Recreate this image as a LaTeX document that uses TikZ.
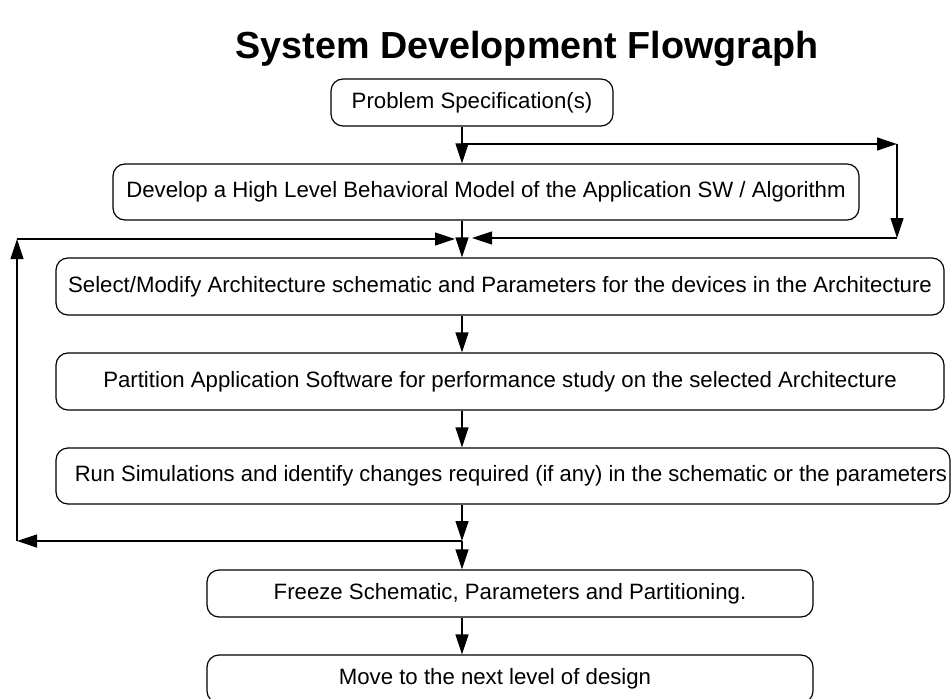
\documentclass[tikz,border=0pt]{standalone}
\usepackage{fontspec}
\setmainfont{Liberation Sans}
\usetikzlibrary{arrows.meta}
\begin{document}
\begin{tikzpicture}[x=1pt,y=-1pt,
  box/.style={draw, rounded corners=12pt, line width=1.2pt, inner sep=0pt,
    font=\fontsize{22.2}{25}\selectfont, align=center},
  flow/.style={line width=1.2pt, -{Triangle[length=20pt,width=13pt]}},
  ttl/.style={inner sep=0pt, anchor=base, font=\fontsize{37.7}{40}\selectfont\bfseries}]
\useasboundingbox (0,0) rectangle (952,698);
\node[ttl] (title) at (527,59) {System Development Flowgraph};
\node[box, minimum width=282pt, minimum height=47pt] (b1) at (472,102.5) {Problem Specification(s)};
\node[box, minimum width=746pt, minimum height=56pt] (b2) at (486,192) {Develop a High Level Behavioral Model of the Application SW / Algorithm};
\node[box, minimum width=888pt, minimum height=57pt] (b3) at (500,286.5) {Select/Modify Architecture schematic and Parameters for the devices in the Architecture};
\node[box, minimum width=888pt, minimum height=57pt] (b4) at (500,381.5) {Partition Application Software for performance study on the selected Architecture};
\node[box, minimum width=894pt, minimum height=56pt] (b5) at (503,476) {\makebox[894pt][r]{\scalebox{0.99}[1]{Run Simulations and identify changes required (if any) in the schematic or the parameters}\hspace{3pt}}};
\node[box, minimum width=606pt, minimum height=47pt] (b6) at (510,593.5) {Freeze Schematic, Parameters and Partitioning.};
\node[box, minimum width=606pt, minimum height=48pt] (b7) at (510,679) {\hspace*{-30pt}Move to the next level of design};
\coordinate (ax) at (462,0);
\coordinate (j1) at (462,144);
\coordinate (r1) at (897,144);
\coordinate (r2) at (897,238);
\coordinate (r3) at (472,238);
\coordinate (j2) at (462,541);
\coordinate (l1) at (17,541);
\coordinate (l2) at (17,239);
\coordinate (l3) at (455,239);
\draw[flow] (b1.south -| ax) -- (b2.north -| ax);
\draw[flow] (j1) -- (r1);
\draw[flow] (r1) -- (r2);
\draw[flow] (r2) -- (r3);
\draw[flow] (b2.south -| ax) -- (b3.north -| ax);
\draw[flow] (b3.south -| ax) -- (b4.north -| ax);
\draw[flow] (b4.south -| ax) -- (b5.north -| ax);
\draw[flow] (b5.south -| ax) -- (j2);
\draw[flow] (j2) -- (b6.north -| ax);
\draw[flow] (j2) -- (l1);
\draw[flow] (l1) -- (l2);
\draw[flow] (l2) -- (l3);
\draw[flow] (b6.south -| ax) -- (b7.north -| ax);
\end{tikzpicture}
\end{document}
